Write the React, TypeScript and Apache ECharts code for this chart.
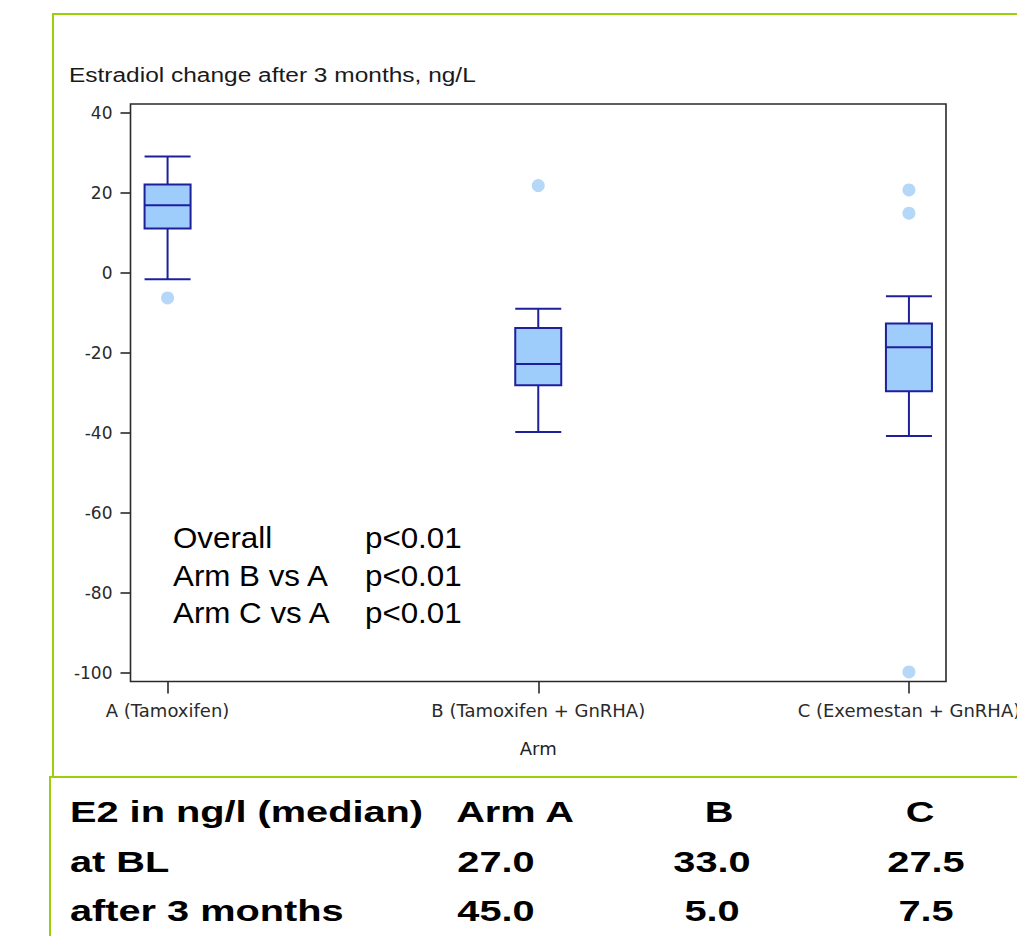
import React, { useEffect, useRef } from "react";
import * as echarts from "echarts";

// ---- data ----
const arms = ["A (Tamoxifen)", "B (Tamoxifen + GnRHA)", "C (Exemestan + GnRHA)"];
const whiskerLow = [-1.5, -39.7, -40.7];
const q1 = [11.2, -28.0, -29.5];
const median = [17.0, -22.7, -18.5];
const q3 = [22.2, -13.7, -12.6];
const whiskerHigh = [29.2, -8.9, -5.8];
const outlierArm = [0, 1, 2, 2, 2];
const outlierValue = [-6.2, 21.9, 20.8, 15.0, -99.7];
const yTicks = [40, 20, 0, -20, -40, -60, -80, -100];

const pLabels = ["Overall", "Arm B vs A", "Arm C vs A"];
const pValues = ["p<0.01", "p<0.01", "p<0.01"];

const tableHeader = ["E2 in ng/l (median)", "Arm A", "B", "C"];
const rowLabels = ["at BL", "after 3 months"];
const medianAtBL = [27.0, 33.0, 27.5];
const medianAfter3 = [45.0, 5.0, 7.5];

const yTitle = "Estradiol change after 3 months, ng/L";
const xTitle = "Arm";

// ---- styles ----
const GREEN = "#9bcf0c";
const BOX_STROKE = "#1f1f9c";
const BOX_FILL = "#9fcdfb";
const OUTLIER = "#a3cdf6";
const AXIS = "#2a2a2a";

export default function App() {
  const ref = useRef<HTMLDivElement>(null);

  useEffect(() => {
    if (!ref.current) return;
    const chart = echarts.init(ref.current, undefined, { renderer: "svg" });

    const boxData = arms.map((_, i) => [i, whiskerLow[i], q1[i], median[i], q3[i], whiskerHigh[i]]);
    const outlierData = outlierArm.map((a, i) => [a, outlierValue[i]]);

    const tableFont = "bold 29px 'Liberation Sans', Arial, sans-serif";
    const tableScale = 1.37;
    const rowY = [812, 862, 911];
    const headerX = [70, 515, 719, 920];
    const valueX = [496, 712, 926];

    const txt = (text: string, x: number, y: number, font: string, scaleX: number, align = "left", fill = "#000") => ({
      type: "text",
      x,
      y,
      scaleX,
      silent: true,
      style: {
        text,
        font,
        fill,
        textAlign: align,
        align,
        textVerticalAlign: "middle",
        verticalAlign: "middle",
      },
    });

    const graphics: any[] = [
      { type: "line", silent: true, shape: { x1: 53, y1: 14, x2: 1017, y2: 14 }, style: { stroke: GREEN, lineWidth: 2 } },
      { type: "line", silent: true, shape: { x1: 53, y1: 13, x2: 53, y2: 776 }, style: { stroke: GREEN, lineWidth: 2 } },
      { type: "line", silent: true, shape: { x1: 50, y1: 777, x2: 1017, y2: 777 }, style: { stroke: GREEN, lineWidth: 2 } },
      { type: "line", silent: true, shape: { x1: 50, y1: 776, x2: 50, y2: 936 }, style: { stroke: GREEN, lineWidth: 2 } },
      txt(yTitle, 69, 75, "21px 'Liberation Sans', Arial, sans-serif", 1.166, "left", "#1a1a1a"),
    ];
    const pY = [538, 576, 613];
    pLabels.forEach((l, i) => {
      graphics.push(txt(l, 173, pY[i], "29px 'Liberation Sans', Arial, sans-serif", 1.08));
      graphics.push(txt(pValues[i], 365, pY[i], "29px 'Liberation Sans', Arial, sans-serif", 1.08));
    });
    graphics.push(txt(tableHeader[0], headerX[0], rowY[0], tableFont, tableScale));
    for (let c = 1; c < 4; c++) graphics.push(txt(tableHeader[c], headerX[c], rowY[0], tableFont, tableScale, "center"));
    graphics.push(txt(rowLabels[0], 70, rowY[1], tableFont, tableScale));
    graphics.push(txt(rowLabels[1], 70, rowY[2], tableFont, tableScale));
    medianAtBL.forEach((v, i) => graphics.push(txt(v.toFixed(1), valueX[i], rowY[1], tableFont, tableScale, "center")));
    medianAfter3.forEach((v, i) => graphics.push(txt(v.toFixed(1), valueX[i], rowY[2], tableFont, tableScale, "center")));

    chart.setOption({
      animation: false,
      backgroundColor: "#ffffff",
      grid: {
        left: 130.5,
        top: 104,
        right: 71,
        bottom: 254.5,
        show: true,
        borderColor: AXIS,
        borderWidth: 1.6,
        backgroundColor: "transparent",
        containLabel: false,
        outerBoundsMode: "none",
      },
      xAxis: {
        type: "value",
        min: -0.1,
        max: 2.1,
        name: xTitle,
        nameLocation: "middle",
        nameGap: 58,
        nameTextStyle: { fontFamily: "'DejaVu Sans', sans-serif", fontSize: 18, color: "#222" },
        axisLine: { show: false, onZero: false },
        splitLine: { show: false },
        axisTick: { show: true, customValues: [0, 1, 2], length: 12, lineStyle: { color: AXIS, width: 1.6 } },
        axisLabel: {
          customValues: [0, 1, 2],
          formatter: (v: number) => arms[Math.round(v)] ?? "",
          fontFamily: "'DejaVu Sans', sans-serif",
          fontSize: 18,
          color: "#2a2a2a",
          margin: 20,
        },
      },
      yAxis: {
        type: "value",
        min: -102.1,
        max: 42.3,
        axisLine: { show: false, onZero: false },
        splitLine: { show: false },
        axisTick: { show: true, customValues: yTicks, length: 10, lineStyle: { color: AXIS, width: 1.6 } },
        axisLabel: {
          customValues: yTicks,
          fontFamily: "'DejaVu Sans', sans-serif",
          fontSize: 17,
          color: "#2a2a2a",
          margin: 18,
        },
      },
      series: [
        {
          type: "custom",
          data: boxData,
          renderItem: (params: any, api: any) => {
            const x = api.value(0);
            const cx = api.coord([x, api.value(3)])[0];
            const yLow = api.coord([x, api.value(1)])[1];
            const yQ1 = api.coord([x, api.value(2)])[1];
            const yMed = api.coord([x, api.value(3)])[1];
            const yQ3 = api.coord([x, api.value(4)])[1];
            const yHigh = api.coord([x, api.value(5)])[1];
            const hw = 23;
            const ls = { stroke: BOX_STROKE, lineWidth: 2 };
            return {
              type: "group",
              children: [
                { type: "line", shape: { x1: cx, y1: yHigh, x2: cx, y2: yQ3 }, style: ls },
                { type: "line", shape: { x1: cx, y1: yQ1, x2: cx, y2: yLow }, style: ls },
                { type: "line", shape: { x1: cx - hw, y1: yHigh, x2: cx + hw, y2: yHigh }, style: ls },
                { type: "line", shape: { x1: cx - hw, y1: yLow, x2: cx + hw, y2: yLow }, style: ls },
                {
                  type: "rect",
                  shape: { x: cx - hw, y: yQ3, width: hw * 2, height: yQ1 - yQ3 },
                  style: { fill: BOX_FILL, stroke: BOX_STROKE, lineWidth: 2 },
                },
                { type: "line", shape: { x1: cx - hw, y1: yMed, x2: cx + hw, y2: yMed }, style: ls },
              ],
            };
          },
          z: 2,
        },
        {
          type: "scatter",
          data: outlierData,
          symbol: "circle",
          symbolSize: 13,
          itemStyle: { color: OUTLIER },
          z: 3,
        },
      ],
      graphic: { elements: graphics },
    });

    return () => chart.dispose();
  }, []);

  return (
    <div
      ref={ref}
      style={{ position: "absolute", left: 0, top: 0, width: 1017, height: 936, background: "#fff" }}
    />
  );
}
